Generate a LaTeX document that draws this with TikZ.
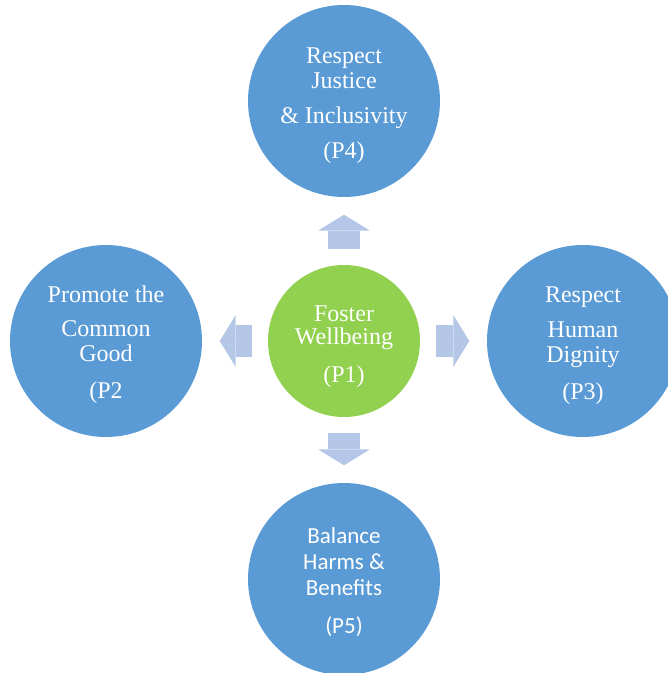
\documentclass[tikz,border=0pt]{standalone}
\usepackage{fontspec}
\setmainfont{Liberation Serif}
\newfontfamily\calibrifont{Carlito}
\usetikzlibrary{arrows.meta}
\definecolor{circblue}{HTML}{5B9BD5}
\definecolor{circgreen}{HTML}{92D050}
\definecolor{arrowblue}{HTML}{B4C7E7}
\begin{document}
\begin{tikzpicture}[x=1pt,y=-1pt,
  principle/.style={circle,fill=circblue,text=white,minimum size=192pt,inner sep=0pt,align=center,font=\fontsize{24}{25}\selectfont},
  core/.style={principle,fill=circgreen,minimum size=152pt,font=\fontsize{24}{23}\selectfont},
  blockarrow/.style={draw=arrowblue,line width=32pt,shorten <=16pt,shorten >=17.5pt,
    preaction={draw=arrowblue,-,shorten >=30pt},
    -{Triangle[width=52pt,length=16pt,line width=0pt,fill=arrowblue]}}]
\clip (0,0) rectangle (668,673);
% the struts push each text block down a little
\node [core] (p1) at (344,341) {\rule{0pt}{26.5pt}Foster\\Wellbeing\\[15pt](P1)};
\node [principle] (p4) at (344,101) {\rule{0pt}{26pt}Respect\\Justice\\[10pt]\& Inclusivity\\[10pt](P4)};
\node [principle] (p2) at (106,341) {\rule{0pt}{24pt}Promote the\\[9pt]Common\\Good\\[12pt](P2};
\node [principle] (p3) at (583,341) {\rule{0pt}{24.5pt}Respect\\[10pt]Human\\Dignity\\[12pt](P3)};
\node [principle,font=\calibrifont\fontsize{23}{26}\selectfont] (p5) at (344,579) {\rule{0pt}{22pt}Balance\\Harms \&\\Benefits\\[12pt](P5)};
\draw [blockarrow] (p1) -- (p4);
\draw [blockarrow] (p1) -- (p2);
\draw [blockarrow] (p1) -- (p3);
\draw [blockarrow] (p1) -- (p5);
\end{tikzpicture}
\end{document}
